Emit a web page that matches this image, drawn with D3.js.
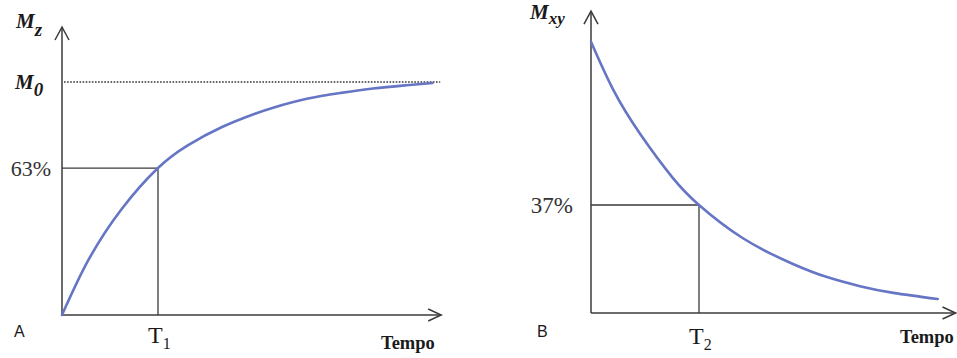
<!DOCTYPE html>
<html><head><meta charset="utf-8">
<script src="https://cdn.jsdelivr.net/npm/d3@7"></script>
<style>html,body{margin:0;padding:0;background:#fff;}svg{display:block;}</style>
</head><body>
<svg id="c" width="957" height="358"></svg>
<script>
// Panel A: longitudinal recovery (t in units of T1, Mz in % of M0)
const tA = [0, 0.274, 0.622, 1.0, 1.31, 1.667, 2.01, 2.2, 2.55, 2.9, 3.24, 3.59, 3.86];
const mzA = [0, 23.5, 45.5, 63.1, 72.8, 80.7, 86.4, 89.0, 92.8, 95.3, 97.2, 98.6, 99.6];
const ticksA = [{ value: 63, label: "63%" }];
const timeTickA = [{ value: 1, main: "T", sub: "1" }];
// Panel B: transverse decay (t in units of T2, Mxy in %)
const tB = [0, 0.204, 0.454, 0.759, 1.0, 1.407, 1.87, 2.185, 2.49, 2.80, 3.21];
const mxyB = [92.9, 76.6, 61.4, 46.2, 37, 25.6, 16.8, 12.3, 9.2, 6.9, 4.8];
const ticksB = [{ value: 37, label: "37%" }];
const timeTickB = [{ value: 1, main: "T", sub: "2" }];

const svg = d3.select("#c");
const axisCol = "#3b3b3b", curveCol = "#6675c4", textCol = "#1a1a1a";
const serif = "'Liberation Serif','Times New Roman',serif";
const sans = "'Liberation Sans',Arial,sans-serif";

function panel(o) {
  const g = svg.append("g");
  const x = d3.scaleLinear().domain([0, 1]).range(o.xr);
  const y = d3.scaleLinear().domain([0, 100]).range(o.yr);
  const x0 = x(0), y0 = y(0);
  const xEnd = x(o.xMax), yTop = y(o.yMax);
  o.ticks.forEach(t => {
    const tx = x(o.timeTick[0].value);
    g.append("path").attr("d", `M${x0},${y(t.value)}H${tx}V${y0}`)
      .attr("fill", "none").attr("stroke", axisCol).attr("stroke-width", 1.3);
    g.append("text").attr("x", o.tickLabelX).attr("y", y(t.value) + 8)
      .attr("text-anchor", "end").attr("font-family", serif).attr("font-size", o.tickSize)
      .attr("fill", "#333").text(t.label);
  });
  if (o.dotted != null) {
    g.append("line").attr("x1", x0 + 2).attr("x2", xEnd - 1).attr("y1", y(o.dotted)).attr("y2", y(o.dotted))
      .attr("stroke", "#333").attr("stroke-width", 1.7).attr("stroke-dasharray", "1.6,1.5");
  }
  g.append("line").attr("x1", x0).attr("x2", x0).attr("y1", y0).attr("y2", yTop)
    .attr("stroke", axisCol).attr("stroke-width", 1.5);
  g.append("line").attr("x1", x0).attr("x2", xEnd).attr("y1", y0).attr("y2", y0)
    .attr("stroke", axisCol).attr("stroke-width", 1.5);
  g.append("path").attr("d", `M${x0 - 7},${yTop + 13}L${x0},${yTop}L${x0 + 7},${yTop + 13}`)
    .attr("fill", "none").attr("stroke", axisCol).attr("stroke-width", 1.5);
  g.append("path").attr("d", `M${xEnd - 13},${y0 - 6}L${xEnd},${y0}L${xEnd - 13},${y0 + 6}`)
    .attr("fill", "none").attr("stroke", axisCol).attr("stroke-width", 1.5);
  const line = d3.line().x(d => x(d[0])).y(d => y(d[1])).curve(d3.curveNatural);
  g.append("path").datum(o.t.map((v, i) => [v, o.m[i]])).attr("d", line)
    .attr("fill", "none").attr("stroke", curveCol).attr("stroke-width", 2.6).attr("stroke-linecap", "round");
  o.timeTick.forEach(tt => {
    const t = g.append("text").attr("x", x(tt.value) - 10).attr("y", o.tLabelY)
      .attr("font-family", serif).attr("font-size", 24).attr("fill", textCol);
    t.append("tspan").text(tt.main);
    t.append("tspan").attr("dy", 6).attr("font-size", 16).text(tt.sub);
  });
  g.append("text").attr("x", o.tempoX).attr("y", o.tempoY).attr("font-family", serif)
    .attr("font-weight", "bold").attr("font-size", 18.5).attr("fill", textCol).text("Tempo");
  g.append("text").attr("x", o.letterX).attr("y", 337).attr("font-family", sans)
    .attr("font-size", 16).attr("fill", textCol).text(o.letter);
  const yt = g.append("text").attr("x", o.titleX).attr("y", o.titleY).attr("font-family", serif)
    .attr("font-weight", "bold").attr("font-style", "italic").attr("font-size", 21).attr("fill", textCol);
  yt.append("tspan").text("M");
  yt.append("tspan").attr("dy", o.subDy).attr("font-size", o.subSize).text(o.titleSub);
  return { x, y };
}

const A = panel({
  xr: [62, 158], yr: [315, 82], xMax: 3.95, yMax: 123.6,
  t: tA, m: mzA, ticks: ticksA, timeTick: timeTickA, dotted: 100, tickSize: 22,
  tickLabelX: 51, tLabelY: 343, tempoX: 381, tempoY: 349, letter: "A", letterX: 14,
  titleX: 16, titleY: 28, titleSub: "z", subDy: 8, subSize: 19
});
svg.append("text").attr("x", 15).attr("y", A.y(100) + 7).attr("font-family", serif)
  .attr("font-weight", "bold").attr("font-style", "italic").attr("font-size", 21).attr("fill", textCol)
  .call(t => { t.append("tspan").text("M"); t.append("tspan").attr("dy", 7).attr("font-size", 19).text("0"); });

panel({
  xr: [591, 699], yr: [313, 21.1], xMax: 3.375, yMax: 103.4,
  t: tB, m: mxyB, ticks: ticksB, timeTick: timeTickB, dotted: null, tickSize: 23,
  tickLabelX: 573, tLabelY: 344, tempoX: 900, tempoY: 343, letter: "B", letterX: 537,
  titleX: 530, titleY: 19, titleSub: "xy", subDy: 5, subSize: 17
});
</script>
</body></html>
